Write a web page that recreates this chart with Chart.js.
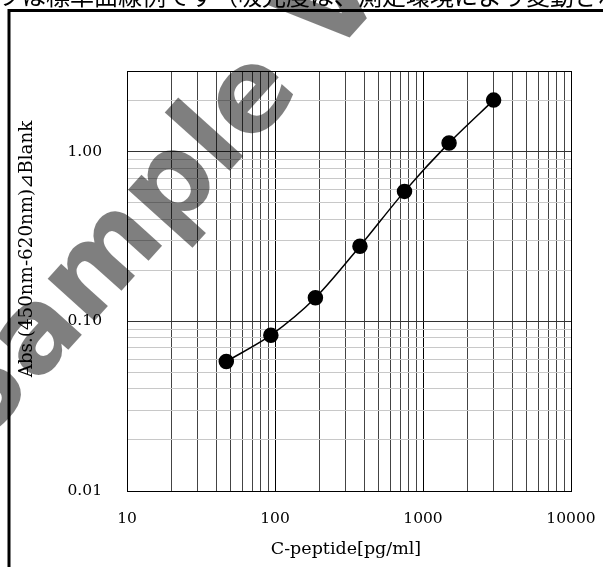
<!DOCTYPE html>
<html>
<head>
<meta charset="utf-8">
<script src="https://cdn.jsdelivr.net/npm/chart.js@4.4.1/dist/chart.umd.min.js"></script>
<style>
  html, body { margin: 0; padding: 0; background: #fff; }
  #wrap { width: 603px; height: 567px; position: relative; }
</style>
</head>
<body>
<div id="wrap"><canvas id="c" width="603" height="567"></canvas></div>
<script>
// standard curve data
const concentrations = [46.875, 93.75, 187.5, 375, 750, 1500, 3000];
const absorbance = [0.058, 0.083, 0.138, 0.278, 0.585, 1.13, 2.02];

const xTicks = [10, 20, 30, 40, 50, 60, 70, 80, 90,
  100, 200, 300, 400, 500, 600, 700, 800, 900,
  1000, 2000, 3000, 4000, 5000, 6000, 7000, 8000, 9000, 10000];
const xLabels = { 10: '10', 100: '100', 1000: '1000', 10000: '10000' };
const yTicks = [0.01, 0.02, 0.03, 0.04, 0.05, 0.06, 0.07, 0.08, 0.09,
  0.1, 0.2, 0.3, 0.4, 0.5, 0.6, 0.7, 0.8, 0.9, 1, 2, 3];
const yLabels = { 0.01: '0.01', 0.1: '0.10', 1: '1.00' };

const xTitle = 'C-peptide[pg/ml]';
const yTitle = 'Abs.(450nm-620nm)⊿Blank';
const headerText = 'グラフは標準曲線例です（吸光度は、測定環境により変動されます）';
const watermark = 'Sample V';

const serif = '"DejaVu Serif", "Liberation Serif", serif';

/* -------------------------------------------------------------------------- */
/* Extras: frame, header line, axis titles, watermark                         */
/* -------------------------------------------------------------------------- */
const extras = {
  id: 'extras',
  beforeDraw(chart) {
    const c = chart.ctx;
    c.save();
    c.fillStyle = '#fff';
    c.fillRect(0, 0, chart.width, chart.height);
    // header text cut off at top
    c.fillStyle = '#000';
    c.font = '24px "Noto Sans CJK JP"';
    c.textBaseline = 'alphabetic';
    c.textAlign = 'left';
    c.fillText(headerText, -50, 5);
    // frame
    c.strokeStyle = '#000';
    c.lineWidth = 3;
    c.beginPath();
    c.moveTo(9, chart.height);
    c.lineTo(9, 10.5);
    c.lineTo(chart.width, 10.5);
    c.stroke();
    c.restore();
  },
  afterDraw(chart) {
    const c = chart.ctx;
    const a = chart.chartArea;
    c.save();
    // plot border
    c.strokeStyle = '#000';
    c.lineWidth = 1;
    c.strokeRect(a.left + 0.5, a.top + 0.5, a.right - a.left, a.bottom - a.top);
    // titles
    c.fillStyle = '#000';
    c.textAlign = 'center';
    c.textBaseline = 'middle';
    c.font = '17.5px ' + serif;
    c.fillText(xTitle, 346, 549);
    c.font = '18.3px ' + serif;
    c.translate(27, 249);
    c.rotate(-Math.PI / 2);
    c.fillText(yTitle, 0, 0);
    c.restore();
    // watermark
    c.save();
    c.translate(119, 249);
    c.rotate(-48 * Math.PI / 180);
    c.font = 'bold 115px "DejaVu Sans", Verdana, sans-serif';
    c.fillStyle = 'rgba(0,0,0,0.5)';
    c.textAlign = 'left';
    c.textBaseline = 'middle';
    c.fillText(watermark, -c.measureText('Sample').width / 2, 0);
    c.restore();
  }
};

new Chart(document.getElementById('c'), {
  type: 'line',
  data: {
    datasets: [{
      data: concentrations.map((x, i) => ({ x, y: absorbance[i] })),
      borderColor: '#000',
      backgroundColor: '#000',
      borderWidth: 1.5,
      pointRadius: 7,
      pointHoverRadius: 7,
      tension: 0.3,
      fill: false
    }]
  },
  options: {
    responsive: false,
    animation: false,
    events: [],
    layout: { padding: { left: 0, top: 71, right: 32, bottom: 0 } },
    plugins: { legend: { display: false }, tooltip: { enabled: false } },
    scales: {
      x: {
        type: 'logarithmic',
        min: 10,
        max: 10000,
        afterBuildTicks: s => { s.ticks = xTicks.map(v => ({ value: v })); },
        afterFit: s => { s.height = 76; s.paddingLeft = 0; s.paddingRight = 0; },
        ticks: {
          autoSkip: false,
          maxRotation: 0,
          padding: 19,
          color: '#000',
          font: { family: serif, size: 15.5 },
          callback: v => xLabels[v] || ''
        },
        grid: {
          drawTicks: false,
          color: c => (c.tick && xLabels[c.tick.value]) ? '#000' : '#444',
          lineWidth: 1
        },
        border: { display: true, color: '#000' }
      },
      y: {
        type: 'logarithmic',
        min: 0.01,
        max: 3,
        afterBuildTicks: s => { s.ticks = yTicks.map(v => ({ value: v })); },
        afterFit: s => { s.width = 127; s.paddingTop = 0; s.paddingBottom = 0; },
        ticks: {
          autoSkip: false,
          padding: 25,
          color: '#000',
          font: { family: serif, size: 15.5 },
          callback: v => yLabels[v] || ''
        },
        grid: {
          drawTicks: false,
          color: c => (c.tick && yLabels[c.tick.value]) ? '#333' : '#c8c8c8',
          lineWidth: 1
        },
        border: { display: true, color: '#000' }
      }
    }
  },
  plugins: [extras]
});
</script>
</body>
</html>
